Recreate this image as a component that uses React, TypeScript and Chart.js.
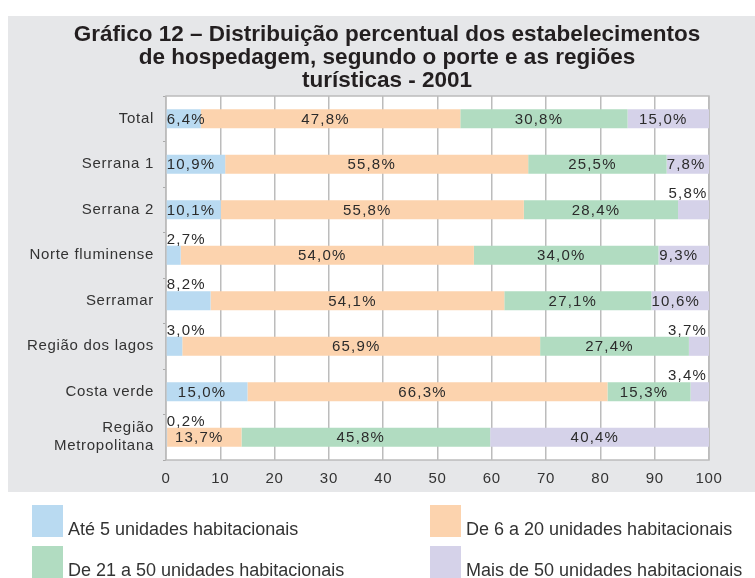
import React, { useEffect, useRef } from "react";
import { Chart, registerables } from "chart.js";

Chart.register(...registerables);

const titleLines = [
  "Gráfico 12 – Distribuição percentual dos estabelecimentos",
  "de hospedagem, segundo o porte e as regiões",
  "turísticas - 2001",
];

const categories: (string | string[])[] = [
  "Total",
  "Serrana 1",
  "Serrana 2",
  "Norte fluminense",
  "Serramar",
  "Região dos lagos",
  "Costa verde",
  ["Região", "Metropolitana"],
];

const seriesNames = [
  "Até 5 unidades habitacionais",
  "De 6 a 20 unidades habitacionais",
  "De 21 a 50 unidades habitacionais",
  "Mais de 50 unidades habitacionais",
];

const ate5 = [6.4, 10.9, 10.1, 2.7, 8.2, 3.0, 15.0, 0.2];
const de6a20 = [47.8, 55.8, 55.8, 54.0, 54.1, 65.9, 66.3, 13.7];
const de21a50 = [30.8, 25.5, 28.4, 34.0, 27.1, 27.4, 15.3, 45.8];
const mais50 = [15.0, 7.8, 5.8, 9.3, 10.6, 3.7, 3.4, 40.4];

const colors = ["#b9daf1", "#fcd3ae", "#b1dcc1", "#d5d2e9"];

const xTicks = [0, 10, 20, 30, 40, 50, 60, 70, 80, 90, 100];

// [series index, category index] of value labels drawn above the bar
const aboveLabels: [number, number][] = [
  [0, 3],
  [0, 4],
  [0, 5],
  [0, 7],
  [3, 2],
  [3, 5],
  [3, 6],
];

const FONT = "'Liberation Sans', Arial, sans-serif";

const bgPlugin = {
  id: "bg",
  beforeDraw(chart: any) {
    const ctx = chart.ctx;
    const ca = chart.chartArea;
    ctx.save();
    ctx.fillStyle = "#ffffff";
    ctx.fillRect(0, 0, chart.width, chart.height);
    ctx.fillStyle = "#e6e7e9";
    ctx.fillRect(8, 16, chart.width - 8, 476);
    ctx.fillStyle = "#ffffff";
    ctx.fillRect(ca.left, ca.top, ca.right - ca.left, ca.bottom - ca.top);
    ctx.fillStyle = "#231f20";
    ctx.font = `bold 22.5px ${FONT}`;
    ctx.textAlign = "center";
    ctx.textBaseline = "alphabetic";
    const baselines = [41, 64, 87];
    titleLines.forEach((t, i) => ctx.fillText(t, 387, baselines[i]));
    ctx.restore();
    ctx.letterSpacing = "0.7px";
  },
  beforeDatasetsDraw(chart: any) {
    const ctx = chart.ctx;
    const ca = chart.chartArea;
    ctx.save();
    ctx.strokeStyle = "#bcbcbc";
    ctx.lineWidth = 1.5;
    ctx.strokeRect(ca.left, ca.top, ca.right - ca.left, ca.bottom - ca.top);
    ctx.restore();
  },
};

const labelPlugin = {
  id: "valueLabels",
  afterDatasetsDraw(chart: any) {
    const ctx = chart.ctx;
    ctx.save();
    ctx.font = `15px ${FONT}`;
    ctx.letterSpacing = "1.2px";
    ctx.fillStyle = "#2b2b2b";
    chart.data.datasets.forEach((ds: any, di: number) => {
      const meta = chart.getDatasetMeta(di);
      meta.data.forEach((bar: any, ci: number) => {
        const v = ds.data[ci] as number;
        const text = v.toFixed(1).replace(".", ",") + "%";
        const { x, y, base, height } = bar.getProps(["x", "y", "base", "height"], true);
        const left = Math.min(x, base);
        const right = Math.max(x, base);
        const w = ctx.measureText(text).width;
        const above = aboveLabels.some(([s, c]) => s === di && c === ci);
        if (above) {
          ctx.textBaseline = "alphabetic";
          const ty = y - height / 2 - 2;
          if (di === 0) {
            ctx.textAlign = "left";
            ctx.fillText(text, left, ty);
          } else {
            ctx.textAlign = "right";
            ctx.fillText(text, right - 2, ty);
          }
        } else {
          let tl = (left + right) / 2 - w / 2 - 5;
          if (tl < left) tl = left;
          ctx.textAlign = "left";
          ctx.textBaseline = "middle";
          ctx.fillText(text, tl, y + 1);
        }
      });
    });
    ctx.restore();
  },
};

const legendPlugin = {
  id: "customLegend",
  afterDraw(chart: any) {
    const ctx = chart.ctx;
    ctx.save();
    ctx.letterSpacing = "0px";
    ctx.font = `18px ${FONT}`;
    ctx.textAlign = "left";
    ctx.textBaseline = "alphabetic";
    const cols = [32, 430];
    const rows = [505, 546];
    chart.data.datasets.forEach((ds: any, i: number) => {
      const bx = cols[i % 2];
      const by = rows[Math.floor(i / 2)];
      ctx.fillStyle = ds.backgroundColor;
      ctx.fillRect(bx, by, 31, 32);
      ctx.fillStyle = "#333333";
      ctx.fillText(ds.label, bx + 36, by + 30);
    });
    ctx.restore();
  },
};

export default function App() {
  const ref = useRef<HTMLCanvasElement>(null);
  useEffect(() => {
    document.body.style.margin = "0";
    const series = [ate5, de6a20, de21a50, mais50];
    const chart = new Chart(ref.current as HTMLCanvasElement, {
      type: "bar",
      data: {
        labels: categories,
        datasets: series.map((d, i) => ({
          label: seriesNames[i],
          data: d,
          backgroundColor: colors[i],
          borderWidth: 0,
          barPercentage: 0.42,
          categoryPercentage: 1,
        })),
      },
      options: {
        indexAxis: "y",
        responsive: false,
        animation: false,
        layout: { padding: { left: 8, right: 46, top: 96, bottom: 88 } },
        plugins: {
          legend: { display: false },
          title: { display: false },
          tooltip: { enabled: false },
        },
        scales: {
          x: {
            stacked: true,
            min: 0,
            max: 100,
            afterBuildTicks: (s: any) => {
              s.ticks = xTicks.map((v) => ({ value: v }));
            },
            afterFit: (s: any) => {
              s.height = 30;
            },
            grid: { color: "#bcbcbc", lineWidth: 1.5, drawTicks: false },
            border: { display: false },
            ticks: { padding: 10, color: "#333333", font: { size: 15, family: FONT } },
          },
          y: {
            stacked: true,
            afterFit: (s: any) => {
              s.width = 158;
            },
            grid: { drawOnChartArea: false, drawTicks: true, tickLength: 3, color: "#aaaaaa" },
            border: { display: false },
            ticks: { padding: 9, color: "#333333", font: { size: 15, family: FONT } },
          },
        },
      },
      plugins: [bgPlugin, labelPlugin, legendPlugin],
    } as any);
    return () => chart.destroy();
  }, []);
  return <canvas ref={ref} width={755} height={578} style={{ display: "block" }} />;
}
